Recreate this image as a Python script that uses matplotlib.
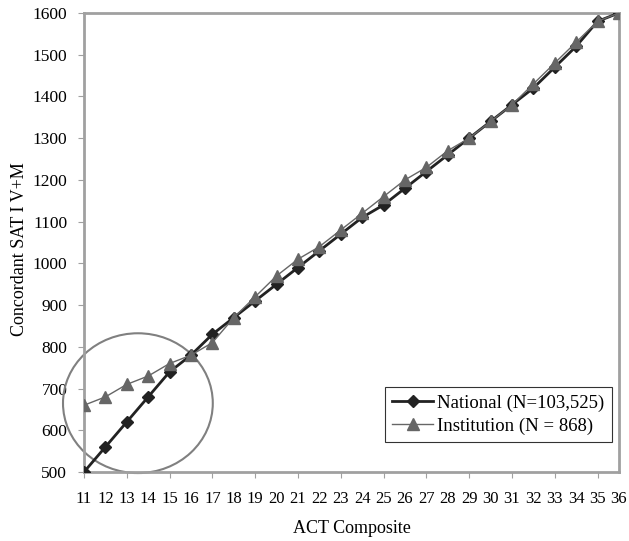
import matplotlib.pyplot as plt
from matplotlib.patches import Ellipse

plt.rcParams['font.family'] = ['Liberation Serif', 'DejaVu Serif']

act = list(range(11, 37))
national = [500, 560, 620, 680, 740, 780, 830, 870, 910, 950, 990, 1030, 1070,
            1110, 1140, 1180, 1220, 1260, 1300, 1340, 1380, 1420, 1470, 1520, 1580, 1600]
institution = [660, 680, 710, 730, 760, 780, 810, 870, 920, 970, 1010, 1040, 1080,
               1120, 1160, 1200, 1230, 1270, 1300, 1340, 1380, 1430, 1480, 1530, 1580, 1600]
y_ticks = list(range(500, 1700, 100))

fig = plt.figure(figsize=(6.29, 5.41), dpi=100)
ax = fig.add_axes([0.1335, 0.1275, 0.8505, 0.8485])

ax.plot(act, national, color="#222222", lw=2, marker="D", ms=6.5,
        label="National (N=103,525)", zorder=3)
ax.plot(act, institution, color="#666666", lw=1, marker="^", ms=8.5,
        label="Institution (N = 868)", zorder=4)

# circle around the low-score region
circ = Ellipse((13.52, 665), 7.0, 335, fill=False, edgecolor="#808080",
               lw=1.5, clip_on=False, zorder=2)
ax.add_patch(circ)

ax.set_xlim(11, 36)
ax.set_ylim(500, 1600)
# tick marks only on odd scores, labels on every score
ax.set_xticks(act[::2])
ax.set_xticks(act[1::2], minor=True)
ax.set_xticklabels([str(v) for v in act[::2]])
ax.set_xticklabels([str(v) for v in act[1::2]], minor=True)
ax.set_yticks(y_ticks)
ax.tick_params(axis="x", which="major", labelsize=12, length=4, width=0.8,
               color="#a0a0a0", direction="out", pad=10)
ax.tick_params(axis="x", which="minor", labelsize=12, length=0, pad=14)
ax.tick_params(axis="y", labelsize=12.5, length=4, width=0.8, color="#a0a0a0",
               direction="out", pad=8)
for s in ax.spines.values():
    s.set_color("#a0a0a0")
    s.set_linewidth(2)

ax.set_xlabel("ACT Composite", fontsize=13, labelpad=9)
ax.set_ylabel("Concordant SAT I V+M", fontsize=13)
ax.yaxis.set_label_coords(-0.105, 0.485)

leg = ax.legend(loc="lower right", bbox_to_anchor=(0.987, 0.065), fontsize=13.5,
                frameon=True, fancybox=False, edgecolor="black",
                handlelength=2.2, handletextpad=0.2, borderpad=0.4,
                labelspacing=0.3, borderaxespad=0)
leg.get_frame().set_linewidth(0.8)

fig.savefig("out.png", dpi=100)
